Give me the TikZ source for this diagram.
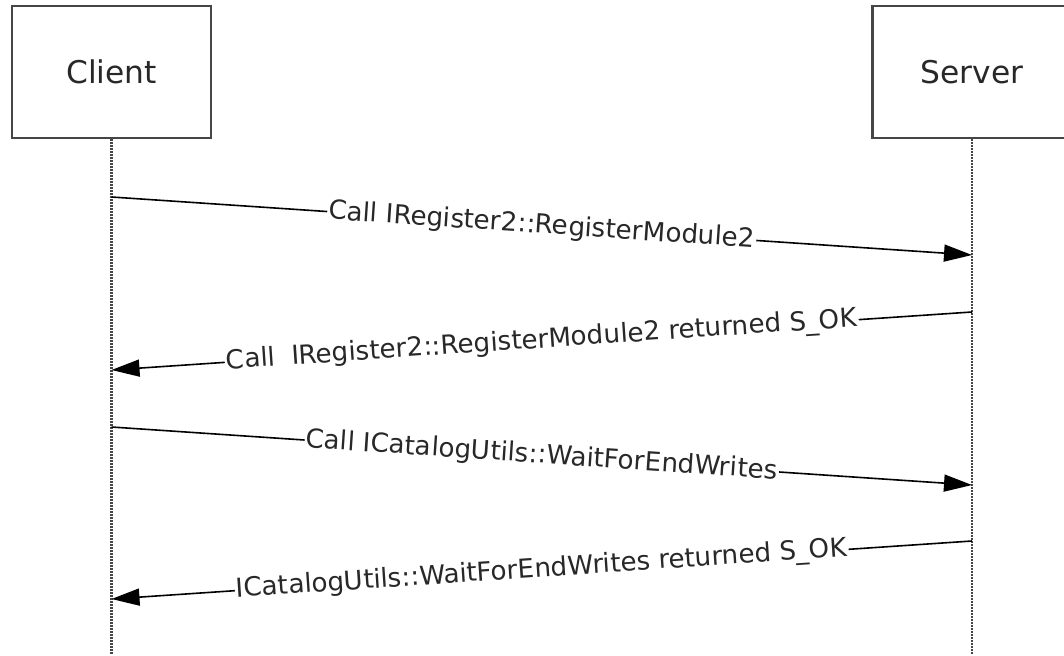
\documentclass[tikz,border=0pt]{standalone}
\usepackage{fontspec}
\setmainfont{DejaVu Sans}
\usetikzlibrary{arrows.meta}
\definecolor{boxline}{RGB}{70,70,70}
\definecolor{txt}{RGB}{40,40,40}
\tikzset{
  actor/.style={draw=boxline, line width=2.6pt, fill=white, minimum width=199pt, minimum height=132pt, inner sep=0pt, text=txt, font=\fontsize{31.3}{34}\selectfont},
  lifeline/.style={draw=boxline, line width=2.4pt, dash pattern=on 1.5pt off 1.5pt},
  msg/.style={draw=black, line width=1.6pt, -{Triangle[length=28pt,width=17pt]}},
  msglabel/.style={sloped, fill=white, inner sep=1.5pt, text=txt, font=\fontsize{26.2}{29}\selectfont}
}
\begin{document}
\begin{tikzpicture}[x=1pt,y=-1pt]
\useasboundingbox[fill=white] (0,0) rectangle (1064,655);
\node[actor] (client) at (111.5,72) {Client};
\node[actor] (server) at (972,72) {Server};
\coordinate (cbot) at (111.5,655);
\coordinate (sbot) at (972,655);
\draw[lifeline] (client.south) -- (cbot);
\draw[lifeline] (server.south) -- (sbot);
\coordinate (c1) at (111.5,197);
\coordinate (s1) at (972,255);
\coordinate (s2) at (972,312);
\coordinate (c2) at (111.5,370);
\coordinate (c3) at (111.5,427);
\coordinate (s3) at (972,485);
\coordinate (s4) at (972,541);
\coordinate (c4) at (111.5,599);
\draw[msg] (c1) -- node[msglabel] {Call IRegister2::RegisterModule2} (s1);
\draw[msg] (s2) -- node[msglabel] {Call\ \ IRegister2::RegisterModule2 returned S\_OK} (c2);
\draw[msg] (c3) -- node[msglabel] {Call ICatalogUtils::WaitForEndWrites} (s3);
\draw[msg] (s4) -- node[msglabel] {ICatalogUtils::WaitForEndWrites returned S\_OK} (c4);
\end{tikzpicture}
\end{document}
